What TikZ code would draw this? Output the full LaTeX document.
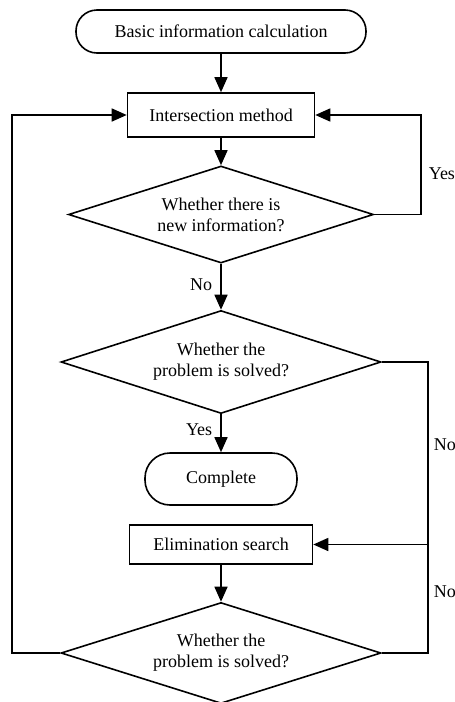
\documentclass[tikz,border=0pt]{standalone}
\usepackage{fontspec}
\setmainfont{Liberation Serif}
\usetikzlibrary{shapes.geometric,arrows.meta}
\begin{document}
\begin{tikzpicture}[x=1pt,y=-1pt,
  font=\fontsize{18}{21}\selectfont,
  line width=1.6pt,
  arr/.style={-{Triangle[length=15pt,width=13pt]}},
  procbox/.style={draw,rectangle,inner sep=0pt,align=center},
  termbox/.style={draw,rectangle,rounded corners=21pt,inner sep=0pt,align=center},
  decbox/.style={draw,diamond,inner sep=0pt,align=center},
  lbl/.style={inner sep=0pt}]
\useasboundingbox (0,0) rectangle (455,702);
\node[termbox,minimum width=290pt,minimum height=43pt] (start) at (221,31.5) {Basic information calculation};
\node[procbox,minimum width=187pt,minimum height=44pt] (inter) at (221,115) {Intersection method};
\node[decbox,aspect=3.144,minimum width=305pt,minimum height=97pt] (d1) at (221,214.5) {Whether there is\\new information?};
\node[decbox,aspect=3.107,minimum width=320pt,minimum height=103pt] (d2) at (221,362) {Whether the\\problem is solved?};
\node[termbox,rounded corners=25pt,minimum width=152pt,minimum height=52pt] (done) at (221,479) {Complete};
\node[procbox,minimum width=183pt,minimum height=39pt] (elim) at (221,544.5) {Elimination search};
\node[decbox,aspect=3.168,minimum width=320pt,minimum height=101pt] (d3) at (221,653) {Whether the\\problem is solved?};

\draw[arr] (start) -- (inter);
\draw[arr] (inter) -- (d1);
\draw[arr] (d1) -- (d2);
\draw[arr] (d2) -- (done);
\draw[arr] (elim) -- (d3);

\coordinate (yr) at (421,214.5);
\draw[arr] (d1.east) -- (yr) |- (inter.east);
\coordinate (nr) at (428,362);
\draw[arr] (d2.east) -- (nr) |- (elim.east);
\draw (d3.east) -| (nr |- elim.east);
\coordinate (lx) at (12,653);
\draw[arr] (d3.west) -- (lx) |- (inter.west);

\node[lbl,anchor=west] (l1) at (428,174) {Yes};
\node[lbl,anchor=east] (l2) at (213,285) {No};
\node[lbl,anchor=east] (l3) at (213,430) {Yes};
\node[lbl,anchor=west] (l4) at (433,445) {No};
\node[lbl,anchor=west] (l5) at (433,592) {No};
\end{tikzpicture}
\end{document}
